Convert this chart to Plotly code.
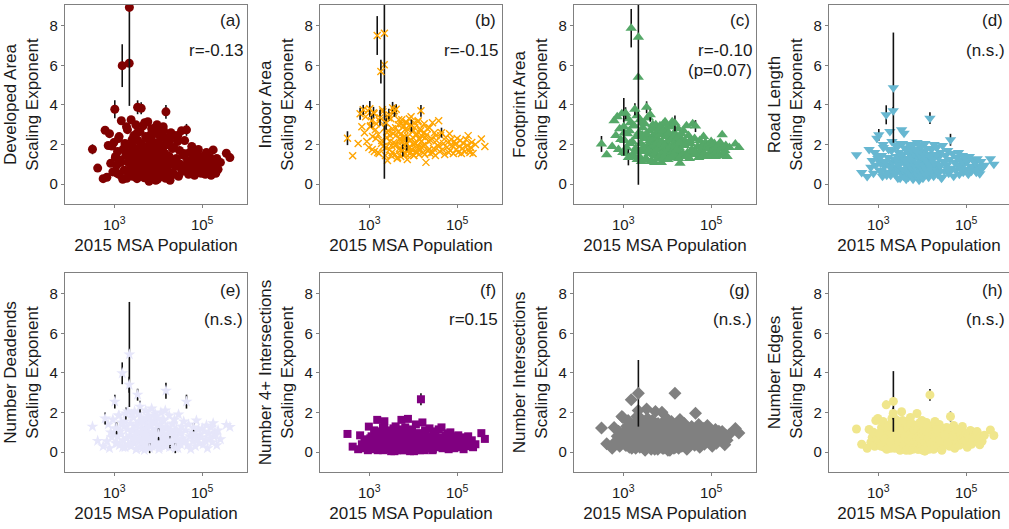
import plotly.graph_objects as go

W, H = 1009, 529

# 2015 MSA population (shared x for all panels)
population = [
    320, 420, 560, 620, 680, 730, 780, 830, 880, 930,
    980, 1030, 1080, 1130, 1190, 1250, 1310, 1380, 1450, 1520,
    1600, 1680, 1760, 1840, 1920, 2000, 2080, 2190, 2210, 2260,
    2340, 2420, 2500, 2600, 2700, 2800, 2900, 3000, 3100, 3200,
    3300, 3400, 3500, 3620, 3740, 3860, 3980, 4100, 4250, 4400,
    4550, 4700, 4850, 5000, 5200, 5400, 5600, 5800, 6000, 6200,
    6400, 6600, 6850, 7100, 7350, 7600, 7900, 8200, 8500, 8800,
    9100, 9400, 9800, 10200, 10600, 11000, 11500, 12000, 12500, 13000,
    13500, 14000, 14500, 15000, 15500, 16200, 17000, 17800, 18600, 19500,
    20500, 21500, 22500, 23500, 24500, 26000, 27500, 29000, 30500, 32000,
    34000, 36000, 38000, 40000, 42000, 44000, 46500, 49000, 52000, 55000,
    58000, 61000, 64000, 67000, 70000, 74000, 78000, 82000, 86000, 90000,
    95000, 100000, 106000, 112000, 118000, 125000, 132000, 140000, 150000, 160000,
    170000, 178000, 186000, 195000, 204000, 215000, 230000, 260000, 355000, 427000,
    1060, 1170, 1290, 1420, 1560, 1720, 1900, 2050, 2380, 2550,
    2750, 2950, 3150, 3350, 3560, 3800, 4050, 4320, 4620, 4920,
    5100, 5300, 5500, 5700, 5900, 6100, 6500, 6750, 7000, 7250,
    7500, 7750, 8050, 8350, 8650, 8950, 9250, 9600, 10000, 10400,
    10800, 11250, 11750, 12250, 12750, 13250, 13750, 14250, 14750, 15250,
    16600, 17400, 18200, 19000, 21000, 23000, 25000, 28000, 33000, 38000,
]

developed_area = [
    1.76, 0.81, 0.28, 2.72, 0.35, 1.95, 2.55, 1.05, 1.92, 0.62,
    2.10, 3.78, 1.40, 0.95, 1.65, 2.30, 0.48, 1.22, 3.20, 5.98,
    1.75, 0.70, 2.05, 1.45, 0.30, 2.75, 1.10, 6.10, 8.92, 1.60,
    0.85, 3.25, 1.95, 0.40, 1.30, 2.45, 0.65, 1.80, 3.00, 1.15,
    0.28, 3.88, 2.20, 1.55, 0.90, 2.65, 1.35, 3.83, 0.55, 1.90,
    2.95, 1.20, 0.32, 1.70, 2.40, 0.75, 1.45, 3.15, 1.05, 0.15,
    2.25, 1.60, 0.45, 2.80, 1.00, 1.85, 0.60, 2.55, 1.30, 0.20,
    1.75, 3.00, 0.95, 2.10, 0.35, 1.50, 2.70, 0.80, 1.25, 2.90,
    0.50, 1.95, 2.35, 3.65, 1.10, 0.70, 2.00, 1.40, 0.20, 2.60,
    1.15, 0.55, 1.85, 2.45, 0.90, 1.30, 2.15, 0.40, 1.70, 1.00,
    2.70, 0.65, 1.45, 2.20, 0.85, 2.74, 1.20, 0.50, 1.60, 1.05,
    1.90, 0.75, 1.35, 0.45, 1.55, 1.10, 0.60, 1.75, 0.95, 1.25,
    0.55, 1.40, 0.85, 1.15, 0.50, 1.60, 0.70, 1.05, 1.35, 0.45,
    1.20, 1.73, 0.85, 1.00, 0.55, 1.30, 0.75, 1.10, 1.56, 1.34,
    1.35, 0.55, 2.40, 1.10, 0.25, 1.85, 2.90, 0.60, 1.50, 2.25,
    0.95, 1.70, 0.35, 2.60, 1.25, 0.80, 2.05, 1.40, 0.45, 3.10,
    1.60, 0.90, 2.30, 0.30, 1.15, 1.95, 0.65, 2.50, 1.35, 0.85,
    2.15, 0.40, 1.75, 1.05, 2.85, 0.55, 1.45, 0.25, 1.90, 1.20,
    0.70, 2.35, 1.30, 0.45, 1.65, 2.70, 0.95, 1.55, 0.30, 2.05,
    1.40, 0.60, 2.20, 1.00, 1.80, 0.50, 1.25, 2.45, 0.80, 1.55,
]
developed_area_err_idx = [0, 11, 19, 28, 41, 47, 83, 105]
developed_area_err = [0.25, 0.45, 1.08, 4.97, 0.35, 0.3, 0.35, 0.3]

indoor_area = [
    2.32, 1.43, 2.05, 3.55, 2.90, 3.75, 2.60, 3.40, 2.15, 3.70,
    1.85, 3.80, 2.95, 3.20, 2.40, 3.60, 1.65, 2.75, 3.05, 7.50,
    2.50, 1.55, 3.35, 5.68, 2.20, 3.75, 1.90, 6.02, 7.62, 2.85,
    1.45, 3.10, 2.35, 1.20, 2.70, 3.50, 1.75, 2.45, 3.30, 1.95,
    1.60, 3.85, 2.55, 2.10, 3.70, 1.50, 2.85, 3.78, 2.00, 1.35,
    2.65, 3.25, 1.80, 2.30, 1.40, 3.05, 2.15, 1.70, 2.90, 1.95,
    2.40, 1.55, 3.15, 2.05, 1.25, 2.75, 1.85, 3.30, 2.20, 1.60,
    2.95, 1.75, 2.35, 1.45, 3.10, 2.10, 1.65, 2.55, 1.90, 3.20,
    1.50, 2.25, 2.80, 3.70, 1.85, 2.40, 1.60, 3.05, 2.00, 1.10,
    2.50, 1.70, 2.15, 2.85, 1.55, 2.30, 3.10, 1.80, 2.60, 1.45,
    2.20, 1.95, 3.20, 1.65, 2.45, 2.60, 1.75, 2.05, 1.50, 2.35,
    1.85, 2.10, 1.60, 2.55, 1.70, 2.25, 1.95, 1.55, 2.15, 2.00,
    1.75, 2.30, 1.60, 1.90, 2.20, 1.55, 1.80, 2.05, 1.65, 2.25,
    1.95, 2.45, 1.70, 1.60, 1.85, 2.10, 1.55, 2.00, 2.28, 1.90,
    2.90, 1.75, 3.55, 2.30, 1.60, 3.20, 2.05, 3.65, 1.85, 2.60,
    3.35, 2.15, 1.45, 2.80, 3.60, 1.95, 2.45, 1.30, 3.00, 2.25,
    1.70, 2.55, 3.25, 1.90, 2.35, 1.50, 2.75, 2.10, 3.10, 1.65,
    2.40, 1.80, 2.95, 1.55, 2.20, 3.40, 1.75, 2.65, 2.00, 1.45,
    2.85, 2.05, 1.60, 2.50, 3.15, 1.85, 2.30, 1.70, 2.70, 2.15,
    1.95, 2.60, 1.50, 2.35, 2.80, 1.75, 2.20, 1.60, 2.45, 1.90,
]
indoor_area_err_idx = [0, 3, 5, 11, 13, 15, 19, 22, 23, 28, 31, 35, 41, 44, 47, 57, 63, 70, 83, 105]
indoor_area_err = [0.35, 0.3, 0.25, 0.4, 0.35, 0.3, 0.98, 0.4, 0.6, 7.35, 0.35, 0.3, 0.3, 0.3, 0.25, 0.3, 0.35, 0.3, 0.3, 0.25]

footprint_area = [
    2.03, 1.48, 1.90, 3.20, 2.45, 3.40, 1.75, 2.80, 2.25, 3.55,
    1.60, 2.90, 2.20, 3.58, 1.85, 2.55, 1.35, 2.70, 3.10, 7.87,
    2.15, 1.50, 2.95, 3.78, 1.70, 2.40, 1.25, 5.39, 7.41, 2.60,
    1.40, 3.25, 2.05, 1.15, 2.50, 2.85, 1.65, 2.30, 3.05, 1.80,
    1.30, 3.88, 2.45, 1.95, 3.35, 1.55, 2.70, 3.50, 1.85, 1.20,
    2.40, 3.00, 1.60, 2.15, 1.10, 2.90, 1.90, 1.45, 2.65, 1.75,
    2.20, 1.35, 2.95, 1.80, 1.10, 2.55, 1.65, 3.05, 2.00, 1.40,
    2.75, 1.55, 2.10, 1.25, 2.90, 1.85, 1.50, 2.35, 1.70, 3.15,
    1.35, 2.05, 2.60, 3.07, 1.65, 2.25, 1.40, 2.80, 1.85, 1.05,
    2.30, 1.50, 1.95, 2.70, 1.40, 2.15, 2.95, 1.60, 2.45, 1.30,
    2.05, 1.75, 3.05, 1.50, 2.30, 2.93, 1.60, 1.90, 1.35, 2.20,
    1.70, 1.95, 1.45, 2.40, 1.55, 2.10, 1.80, 1.40, 2.00, 1.85,
    1.60, 2.15, 1.45, 1.75, 2.05, 1.40, 1.65, 1.90, 1.50, 2.10,
    1.80, 2.49, 1.55, 1.45, 1.70, 1.95, 1.40, 1.85, 2.03, 1.85,
    2.60, 1.55, 3.30, 2.05, 1.40, 2.95, 1.80, 3.45, 1.65, 2.40,
    3.10, 1.90, 1.25, 2.55, 3.35, 1.70, 2.20, 1.15, 2.80, 2.00,
    1.50, 2.35, 3.00, 1.75, 2.10, 1.30, 2.50, 1.90, 2.85, 1.45,
    2.15, 1.60, 2.70, 1.35, 1.95, 3.15, 1.55, 2.40, 1.80, 1.25,
    2.60, 1.85, 1.40, 2.25, 2.90, 1.65, 2.05, 1.50, 2.45, 1.95,
    1.75, 2.35, 1.30, 2.10, 2.55, 1.55, 1.95, 1.45, 2.20, 1.70,
]
footprint_area_err_idx = [0, 11, 13, 16, 19, 23, 28, 41, 47, 83, 105]
footprint_area_err = [0.4, 1.45, 0.3, 0.4, 0.97, 0.3, 7.44, 0.3, 0.35, 0.4, 0.3]

road_length = [
    1.48, 0.59, 0.39, 1.75, 0.85, 1.20, 0.55, 1.60, 0.95, 2.32,
    1.30, 2.49, 0.70, 1.05, 1.45, 0.40, 1.85, 0.90, 1.15, 3.50,
    0.60, 1.35, 0.95, 2.66, 0.45, 1.70, 1.10, 3.70, 4.87, 0.80,
    1.25, 0.50, 1.95, 0.85, 1.40, 0.30, 1.60, 1.00, 2.05, 0.65,
    1.15, 2.74, 0.75, 1.50, 0.40, 2.57, 1.05, 1.80, 0.55, 1.30,
    0.90, 1.70, 0.35, 1.20, 2.00, 0.65, 1.45, 0.80, 1.95, 0.25,
    1.35, 0.60, 1.75, 1.05, 0.40, 2.10, 0.85, 1.55, 0.20, 1.25,
    0.70, 1.90, 1.10, 0.45, 1.65, 0.95, 2.05, 0.55, 1.30, 0.80,
    1.50, 0.35, 1.20, 3.33, 0.90, 1.75, 0.60, 1.40, 2.00, 0.75,
    1.05, 1.85, 0.50, 1.35, 0.85, 1.60, 0.30, 1.95, 1.15, 0.65,
    1.45, 0.95, 1.70, 0.55, 1.25, 2.24, 0.80, 1.55, 0.40, 1.10,
    0.70, 1.35, 0.95, 1.60, 0.50, 1.20, 0.85, 1.45, 0.60, 1.05,
    1.30, 0.75, 1.15, 0.50, 1.40, 0.90, 0.65, 1.25, 0.85, 1.10,
    0.60, 1.28, 0.90, 0.70, 0.52, 1.15, 0.80, 0.95, 1.28, 1.00,
    1.40, 0.65, 2.00, 1.10, 0.45, 1.75, 0.85, 2.15, 0.55, 1.25,
    1.90, 0.95, 0.30, 1.50, 2.05, 0.70, 1.20, 0.25, 1.65, 1.00,
    0.50, 1.30, 1.85, 0.80, 1.15, 0.35, 1.55, 0.90, 1.70, 0.45,
    1.05, 0.60, 1.60, 0.40, 0.95, 1.95, 0.55, 1.35, 0.75, 0.30,
    1.45, 0.85, 0.50, 1.20, 1.80, 0.65, 1.00, 0.45, 1.40, 0.90,
    0.70, 1.25, 0.40, 1.05, 1.50, 0.60, 0.95, 0.35, 1.15, 0.75,
]
road_length_err_idx = [9, 11, 19, 27, 28, 83, 105]
road_length_err = [0.2, 0.3, 0.48, 0.2, 2.78, 0.3, 0.3]

num_deadends = [
    1.29, 0.57, 0.30, 1.70, 0.55, 1.40, 0.20, 1.00, 0.75, 1.65,
    0.95, 2.55, 0.45, 1.20, 0.80, 1.85, 0.35, 1.05, 1.50, 3.98,
    0.60, 1.30, 0.25, 1.95, 0.70, 1.15, 0.40, 3.40, 4.93, 0.85,
    1.45, 0.30, 1.90, 0.65, 1.10, 0.50, 2.05, 0.80, 1.35, 0.15,
    1.00, 2.90, 0.60, 1.55, 0.25, 2.30, 0.90, 1.75, 0.45, 1.20,
    0.70, 1.60, 0.10, 1.25, 2.10, 0.55, 1.40, 0.35, 1.85, 0.95,
    0.20, 1.30, 0.65, 2.20, 1.05, 0.40, 1.50, 0.75, 1.95, 0.30,
    1.15, 0.55, 1.70, 0.90, 0.25, 1.40, 2.00, 0.60, 1.10, 0.45,
    1.60, 0.80, 2.10, 3.10, 0.35, 1.25, 0.70, 1.85, 0.50, 1.05,
    0.30, 1.45, 0.85, 1.65, 0.20, 1.15, 0.60, 1.90, 0.95, 0.40,
    1.30, 0.70, 1.55, 0.50, 1.10, 2.55, 0.35, 1.40, 0.80, 0.15,
    1.00, 0.55, 1.25, 0.85, 0.30, 1.60, 0.65, 1.15, 0.45, 0.90,
    0.75, 1.20, 0.40, 1.05, 0.60, 1.35, 0.20, 0.95, 0.70, 1.25,
    0.50, 1.46, 0.80, 1.00, 0.87, 0.35, 1.10, 0.65, 1.38, 1.27,
    1.20, 0.45, 1.85, 0.90, 0.25, 1.55, 0.70, 2.05, 0.35, 1.10,
    1.75, 0.80, 0.15, 1.35, 1.95, 0.55, 1.05, 0.20, 1.50, 0.85,
    0.40, 1.15, 1.70, 0.65, 1.00, 0.25, 1.40, 0.75, 1.60, 0.30,
    0.95, 0.50, 1.45, 0.30, 0.85, 1.80, 0.45, 1.20, 0.60, 0.15,
    1.30, 0.70, 0.35, 1.05, 1.65, 0.50, 0.90, 0.30, 1.25, 0.75,
    0.55, 1.10, 0.25, 0.95, 1.40, 0.45, 0.80, 0.20, 1.00, 0.60,
]
num_deadends_err_idx = [3, 11, 13, 19, 23, 27, 28, 41, 45, 60, 73, 83, 88, 94, 105, 112]
num_deadends_err = [0.3, 0.35, 0.3, 0.55, 0.3, 0.4, 2.65, 0.3, 0.3, 0.25, 0.3, 0.4, 0.3, 0.25, 0.35, 0.2]

num_4way = [
    0.92, 0.28, 0.15, 0.85, 0.40, 0.20, 0.65, 0.30, 0.55, 0.10,
    1.29, 0.45, 0.25, 0.80, 0.35, 0.60, 0.15, 0.50, 0.90, 1.63,
    0.30, 0.70, 0.20, 1.05, 0.40, 0.55, 0.10, 1.20, 1.56, 0.35,
    0.65, 0.25, 0.95, 0.45, 0.15, 0.75, 0.35, 1.10, 0.20, 0.55,
    0.40, 0.85, 0.30, 1.00, 0.05, 0.60, 1.30, 0.25, 0.70, 0.45,
    1.15, 0.20, 0.50, 0.80, 0.35, 1.63, 0.10, 0.65, 0.90, 0.30,
    0.55, 1.25, 0.15, 0.70, 0.40, 1.68, 0.25, 0.95, 0.05, 0.60,
    0.35, 1.05, 0.45, 0.20, 0.85, 0.50, 1.40, 0.10, 0.75, 0.30,
    0.60, 0.95, 0.25, 2.67, 0.40, 1.50, 0.15, 0.70, 1.10, 0.35,
    0.50, 0.80, 0.20, 1.20, 0.45, 0.65, 0.10, 0.90, 0.30, 1.05,
    0.55, 0.25, 1.15, 0.40, 0.75, 1.25, 0.20, 0.60, 0.35, 0.85,
    0.45, 0.95, 0.15, 0.65, 1.00, 0.30, 0.55, 0.80, 0.20, 0.50,
    0.70, 0.35, 0.85, 0.25, 0.60, 0.40, 0.75, 0.15, 0.55, 0.65,
    0.30, 0.80, 0.50, 0.45, 0.32, 0.60, 0.25, 0.40, 0.96, 0.67,
    0.70, 0.20, 1.10, 0.45, 0.10, 0.90, 0.35, 1.25, 0.15, 0.60,
    1.00, 0.30, 0.05, 0.75, 1.20, 0.25, 0.55, 0.10, 0.85, 0.40,
    0.20, 0.65, 1.05, 0.30, 0.50, 0.10, 0.80, 0.35, 0.95, 0.15,
    0.45, 0.25, 0.85, 0.10, 0.40, 1.15, 0.20, 0.70, 0.30, 0.05,
    0.75, 0.35, 0.15, 0.55, 0.95, 0.25, 0.45, 0.10, 0.70, 0.30,
    0.25, 0.60, 0.10, 0.50, 0.80, 0.20, 0.40, 0.15, 0.55, 0.30,
]
num_4way_err_idx = [28, 83]
num_4way_err = [0.15, 0.3]

num_intersections = [
    1.22, 0.42, 0.20, 1.25, 0.55, 0.80, 1.05, 0.30, 0.65, 1.80,
    1.75, 0.60, 0.95, 0.35, 1.30, 0.50, 1.10, 0.25, 0.85, 2.64,
    0.45, 1.40, 0.70, 1.00, 0.20, 1.55, 0.90, 2.10, 2.97, 0.40,
    1.15, 0.65, 1.70, 0.30, 0.95, 0.50, 1.35, 0.80, 0.15, 1.25,
    0.60, 2.18, 0.35, 1.05, 0.75, 1.50, 0.45, 0.90, 1.20, 0.25,
    1.60, 0.55, 0.85, 1.30, 0.15, 2.05, 0.70, 1.10, 0.40, 1.45,
    0.80, 0.30, 1.25, 0.95, 0.55, 2.02, 0.20, 1.15, 0.65, 1.40,
    0.45, 1.00, 1.70, 0.35, 0.85, 1.30, 0.10, 0.75, 1.55, 0.50,
    1.20, 0.60, 0.90, 2.97, 0.25, 1.35, 0.70, 1.05, 0.40, 1.65,
    0.85, 0.30, 1.15, 0.55, 1.45, 0.95, 0.20, 1.25, 0.65, 1.00,
    0.45, 1.30, 0.75, 1.10, 0.35, 1.97, 0.60, 0.90, 1.40, 0.25,
    1.05, 0.50, 0.80, 1.20, 0.40, 0.95, 0.70, 1.35, 0.55, 0.85,
    0.65, 1.00, 0.30, 0.90, 0.75, 1.15, 0.45, 0.60, 1.05, 0.80,
    0.95, 1.04, 0.55, 0.70, 0.37, 0.85, 0.60, 0.90, 1.20, 0.97,
    1.00, 0.35, 1.60, 0.70, 0.20, 1.35, 0.55, 1.80, 0.25, 0.90,
    1.50, 0.60, 0.10, 1.15, 1.70, 0.40, 0.85, 0.15, 1.30, 0.65,
    0.30, 0.95, 1.45, 0.50, 0.80, 0.15, 1.20, 0.55, 1.40, 0.25,
    0.75, 0.40, 1.25, 0.20, 0.70, 1.55, 0.35, 1.00, 0.45, 0.10,
    1.10, 0.55, 0.25, 0.85, 1.40, 0.35, 0.75, 0.20, 1.05, 0.60,
    0.45, 0.95, 0.20, 0.80, 1.20, 0.35, 0.65, 0.15, 0.90, 0.50,
]
num_intersections_err_idx = [19, 28, 83]
num_intersections_err = [0.2, 1.68, 0.25]

num_edges = [
    1.17, 0.40, 0.20, 1.15, 0.50, 0.75, 1.00, 0.30, 1.60, 0.65,
    1.70, 0.55, 0.90, 0.35, 1.25, 0.45, 1.05, 0.25, 0.80, 2.39,
    0.40, 1.35, 0.65, 0.95, 0.20, 1.45, 0.85, 1.95, 2.56, 0.35,
    1.10, 0.60, 1.65, 0.25, 0.90, 0.45, 1.30, 0.75, 0.15, 1.20,
    0.55, 2.04, 0.30, 1.00, 0.70, 1.45, 0.40, 0.85, 1.15, 0.20,
    1.55, 0.50, 0.80, 1.25, 0.10, 1.75, 0.65, 1.05, 0.35, 1.40,
    0.75, 0.25, 1.20, 0.90, 0.50, 1.95, 0.15, 1.10, 0.60, 1.35,
    0.40, 0.95, 1.60, 0.30, 0.80, 1.25, 0.05, 0.70, 1.50, 0.45,
    1.15, 0.55, 0.85, 2.89, 0.20, 1.30, 0.65, 1.00, 0.35, 1.55,
    0.80, 0.25, 1.10, 0.50, 1.40, 0.90, 0.15, 1.20, 0.60, 0.95,
    0.40, 1.25, 0.70, 1.05, 0.30, 1.80, 0.55, 0.85, 1.35, 0.20,
    1.00, 0.45, 0.75, 1.15, 0.35, 0.90, 0.65, 1.30, 0.50, 0.80,
    0.60, 0.95, 0.25, 0.85, 0.70, 1.10, 0.40, 0.55, 1.00, 0.75,
    0.90, 1.04, 0.50, 0.65, 0.37, 0.80, 0.55, 0.85, 1.12, 0.84,
    0.95, 0.30, 1.55, 0.65, 0.15, 1.30, 0.50, 1.70, 0.20, 0.85,
    1.45, 0.55, 0.10, 1.10, 1.60, 0.35, 0.80, 0.10, 1.25, 0.60,
    0.25, 0.90, 1.40, 0.45, 0.75, 0.15, 1.15, 0.50, 1.35, 0.20,
    0.70, 0.35, 1.20, 0.15, 0.65, 1.50, 0.30, 0.95, 0.40, 0.10,
    1.05, 0.50, 0.20, 0.80, 1.35, 0.30, 0.70, 0.15, 1.00, 0.55,
    0.40, 0.90, 0.15, 0.75, 1.15, 0.30, 0.60, 0.10, 0.85, 0.45,
]
num_edges_err_idx = [19, 27, 28, 83, 105]
num_edges_err = [0.2, 0.3, 1.53, 0.3, 0.25]

titles = ["Developed Area", "Indoor Area", "Footprint Area", "Road Length",
          "Number Deadends", "Number 4+ Intersections", "Number Intersections", "Number Edges"]
labels = ["(a)", "(b)", "(c)", "(d)", "(e)", "(f)", "(g)", "(h)"]
stats = [["r=-0.13"], ["r=-0.15"], ["r=-0.10", "(p=0.07)"], ["(n.s.)"],
         ["(n.s.)"], ["r=0.15"], ["(n.s.)"], ["(n.s.)"]]

series = [
    (developed_area, developed_area_err_idx, developed_area_err),
    (indoor_area, indoor_area_err_idx, indoor_area_err),
    (footprint_area, footprint_area_err_idx, footprint_area_err),
    (road_length, road_length_err_idx, road_length_err),
    (num_deadends, num_deadends_err_idx, num_deadends_err),
    (num_4way, num_4way_err_idx, num_4way_err),
    (num_intersections, num_intersections_err_idx, num_intersections_err),
    (num_edges, num_edges_err_idx, num_edges_err),
]
for ys, _, _ in series:
    assert len(ys) == len(population), len(ys)

styles = [
    dict(color="#800000", symbol="circle", size=9),
    dict(color="#FFA500", symbol="x-thin", size=7),
    dict(color="#55A868", symbol="triangle-up", size=10),
    dict(color="#67B7D1", symbol="triangle-down", size=10),
    dict(color="#E6E6FA", symbol="star", size=9),
    dict(color="#800080", symbol="square", size=8),
    dict(color="#808080", symbol="diamond", size=10),
    dict(color="#F0E68C", symbol="circle", size=9),
]

FONT = "Arial, Liberation Sans, sans-serif"
TXT = "#1a1a1a"
AXC = "#808080"

col_left = [65, 320, 574, 829]
col_w = 182
row_top = [5, 273]
row_h = 199

fig = go.Figure()
layout = dict(width=W, height=H, margin=dict(l=0, r=0, t=0, b=0),
              paper_bgcolor="white", plot_bgcolor="white", showlegend=False,
              font=dict(family=FONT, size=17, color=TXT))
annotations = []
XMIN, XMAX = 1.88, 6.02

for i in range(8):
    r, c = divmod(i, 4)
    s = "" if i == 0 else str(i + 1)
    x0 = col_left[c]
    x1 = x0 + col_w
    xmax = XMAX
    clipped = x1 > W
    if clipped:
        xmax = XMIN + (XMAX - XMIN) * (W - x0) / col_w
        x1 = W
    y0, y1 = row_top[r], row_top[r] + row_h
    ys, eidx, evals = series[i]
    st = styles[i]
    ex = [population[k] for k in range(len(population)) if k not in eidx]
    ey = [ys[k] for k in range(len(population)) if k not in eidx]
    marker = dict(color=st["color"], symbol=st["symbol"], size=st["size"])
    if st["symbol"] == "x-thin":
        marker["line"] = dict(color=st["color"], width=1.4)
    else:
        marker["line"] = dict(width=0)
    fig.add_trace(go.Scatter(x=ex, y=ey, mode="markers", marker=marker,
                             xaxis="x" + s, yaxis="y" + s, hoverinfo="skip"))
    fig.add_trace(go.Scatter(
        x=[population[k] for k in eidx], y=[ys[k] for k in eidx], mode="markers",
        marker=marker, xaxis="x" + s, yaxis="y" + s, hoverinfo="skip",
        error_y=dict(type="data", array=evals, visible=True, color="#111111",
                     thickness=1.6, width=0)))
    layout["xaxis" + s] = dict(
        type="log", range=[XMIN, xmax], domain=[x0 / W, x1 / W], anchor="y" + s,
        tickvals=[1e3, 1e5], ticktext=["10<sup>3</sup>", "10<sup>5</sup>"],
        showline=True, linecolor=AXC, linewidth=1.4, mirror=True,
        ticks="outside", ticklen=3, tickcolor=AXC, tickwidth=1.2, ticklabelstandoff=4,
        showgrid=False, zeroline=False, tickfont=dict(size=15, color=TXT),
        title=dict(text="2015 MSA Population", font=dict(size=17, color=TXT), standoff=6))
    layout["yaxis" + s] = dict(
        range=[-1, 9.04], domain=[1 - y1 / H, 1 - y0 / H], anchor="x" + s,
        tickvals=[0, 2, 4, 6, 8], showline=True, linecolor=AXC, linewidth=1.4,
        mirror=not clipped, ticks="outside", ticklen=3, tickcolor=AXC, tickwidth=1.2,
        showgrid=False, zeroline=False, tickfont=dict(size=15, color=TXT),
        title=dict(text=titles[i] + "<br>Scaling Exponent", font=dict(size=17, color=TXT), standoff=6))
    ls = -16 if r == 0 else -17
    annotations.append(dict(text=labels[i], xref="x" + s + " domain", yref="y" + s + " domain",
                            x=1, y=1, xanchor="right", yanchor="middle", xshift=-4, yshift=ls,
                            showarrow=False, font=dict(size=17, color=TXT)))
    for j, t in enumerate(stats[i]):
        annotations.append(dict(text=t, xref="x" + s + " domain", yref="y" + s + " domain",
                                x=1, y=1, xanchor="right", yanchor="middle", xshift=-2,
                                yshift=-46 - 20 * j, showarrow=False, font=dict(size=17, color=TXT)))

layout["annotations"] = annotations
fig.update_layout(**layout)
fig.write_html("out.html")
